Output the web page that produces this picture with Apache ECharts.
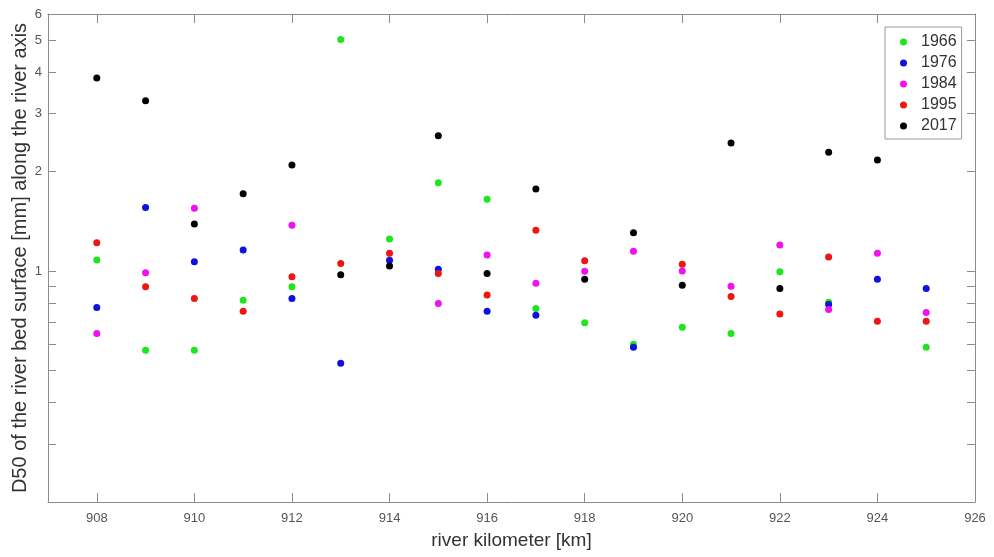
<!DOCTYPE html>
<html>
<head>
<meta charset="utf-8">
<script src="https://cdn.jsdelivr.net/npm/echarts@6/dist/echarts.min.js"></script>
<style>html,body{margin:0;padding:0;background:#fff}#c{width:994px;height:557px}</style>
</head>
<body>
<div id="c"></div>
<script>
const km = [908,909,910,911,912,913,914,915,916,917,918,919,920,921,922,923,924,925];
const d1966 = [1.08,0.576,0.576,0.816,0.896,5.02,1.25,1.85,1.65,0.77,0.697,0.601,0.676,0.647,0.995,0.805,null,0.588];
const d1976 = [0.776,1.557,1.067,1.158,0.826,0.526,1.078,1.012,0.756,0.735,null,0.588,null,null,null,0.792,0.944,0.886];
const d1984 = [0.647,0.988,1.55,null,1.377,null,null,0.798,1.118,0.918,0.998,1.148,1.0,0.90,1.2,0.765,1.132,0.749];
const d1995 = [1.219,0.896,0.826,0.756,0.961,1.055,1.132,0.984,0.847,1.33,1.075,null,1.048,0.838,0.742,1.103,0.705,0.705];
const d2017 = [3.84,3.28,1.389,1.714,2.095,0.974,1.036,2.57,0.984,1.771,0.944,1.307,0.906,2.44,0.886,2.29,2.17,null];
const seriesNames = ['1966','1976','1984','1995','2017'];
const seriesColors = ['#1ee61e','#1010e0','#f010f0','#f01414','#000000'];
const xTicks = [908,910,912,914,916,918,920,922,924,926];
const yLabels = [1,2,3,4,5,6];
const yTicks = [0.3,0.4,0.5,0.6,0.7,0.8,0.9,1,2,3,4,5,6];

const allData = [d1966,d1976,d1984,d1995,d2017];
const font = "'Liberation Sans', Arial, sans-serif";
const axisColor = '#8c8c8c';

function pairs(arr){
  const out = [];
  arr.forEach((v,i)=>{ if(v!=null) out.push([km[i], v]); });
  return out;
}

const chart = echarts.init(document.getElementById('c'));
chart.setOption({
  animation: false,
  backgroundColor: '#fff',
  textStyle: {fontFamily: font},
  grid: {left: 48, right: 19, top: 14, bottom: 55, containLabel: false, outerBoundsMode: 'none'},
  legend: {
    orient: 'vertical',
    left: 885, top: 27,
    data: seriesNames,
    icon: 'circle',
    itemWidth: 25, itemHeight: 7, itemGap: 5,
    padding: [7, 5, 5, 15],
    borderColor: '#999', borderWidth: 1,
    backgroundColor: '#fff',
    textStyle: {fontSize: 16, color: '#333', fontFamily: font}
  },
  xAxis: [
    {
      type: 'value', min: 907, max: 926, position: 'bottom',
      name: 'river kilometer [km]', nameLocation: 'middle', nameGap: 29,
      nameTextStyle: {fontSize: 19, color: '#333', fontFamily: font},
      axisLine: {show: true, lineStyle: {color: axisColor}},
      axisTick: {show: true, inside: true, length: 9, customValues: xTicks, lineStyle: {color: axisColor}},
      axisLabel: {customValues: xTicks, color: '#555', fontSize: 13, margin: 10, fontFamily: font},
      splitLine: {show: false}
    },
    {
      type: 'value', min: 907, max: 926, position: 'top',
      axisLine: {show: true, lineStyle: {color: axisColor}},
      axisTick: {show: true, inside: true, length: 9, customValues: xTicks, lineStyle: {color: axisColor}},
      axisLabel: {show: false},
      splitLine: {show: false}
    }
  ],
  yAxis: [
    {
      type: 'log', logBase: 10, min: 0.2, max: 6, position: 'left',
      name: 'D50 of the river bed surface [mm] along the river axis',
      nameLocation: 'middle', nameGap: 18, nameMoveOverlap: false,
      nameTextStyle: {fontSize: 20, color: '#333', fontFamily: font},
      axisLine: {show: true, lineStyle: {color: axisColor}},
      axisTick: {show: true, inside: true, length: 8, customValues: yTicks, lineStyle: {color: axisColor}},
      axisLabel: {customValues: yLabels, color: '#555', fontSize: 13, margin: 6, fontFamily: font},
      splitLine: {show: false}
    },
    {
      type: 'log', logBase: 10, min: 0.2, max: 6, position: 'right',
      axisLine: {show: true, lineStyle: {color: axisColor}},
      axisTick: {show: true, inside: true, length: 8, customValues: yTicks, lineStyle: {color: axisColor}},
      axisLabel: {show: false},
      splitLine: {show: false}
    }
  ],
  series: seriesNames.map((n,i)=>({
    name: n, type: 'scatter', xAxisIndex: 0, yAxisIndex: 0,
    symbol: 'circle', symbolSize: 7,
    itemStyle: {color: seriesColors[i], opacity: 1},
    data: pairs(allData[i])
  }))
});
</script>
</body>
</html>
